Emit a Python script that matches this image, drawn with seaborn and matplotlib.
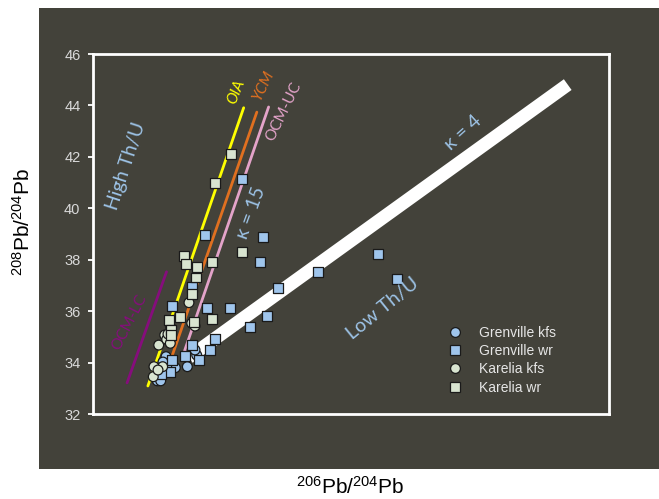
import matplotlib
matplotlib.use("Agg")
import matplotlib.pyplot as plt
from matplotlib.patches import Rectangle
import numpy as np
import pandas as pd
import seaborn as sns

# --- Sample data: 206Pb/204Pb (x) and 208Pb/204Pb (y) ---
grenville_kfs_x = [17.097, 17.206, 17.186, 16.849, 16.957, 16.779, 16.748, 16.787, 16.857, 16.814]
grenville_kfs_y = [33.84, 34.29, 34.49, 34.23, 33.80, 33.51, 33.29, 33.29, 33.86, 34.02]

grenville_wr_x = [17.733, 17.302, 17.981, 17.938, 17.151, 16.922, 17.329, 17.593, 18.027, 17.822,
                  18.148, 17.415, 17.151, 17.360, 17.073, 17.236, 16.915, 16.895, 16.791,
                  18.612, 19.310, 19.535]
grenville_wr_y = [41.13, 38.95, 38.89, 37.91, 36.93, 36.21, 36.11, 36.11, 35.80, 35.37,
                  36.91, 34.93, 34.68, 34.49, 34.27, 34.10, 34.10, 33.64, 33.55,
                  37.52, 38.22, 37.24]

karelia_kfs_x = [17.116, 17.148, 17.186, 16.834, 16.903, 16.764, 16.857, 16.899, 16.810, 16.709,
                 16.701, 16.756, 16.872]
karelia_kfs_y = [36.33, 35.53, 35.42, 35.07, 35.37, 34.68, 34.90, 34.75, 33.84, 33.84,
                 33.45, 33.71, 35.11]

karelia_wr_x = [17.601, 17.415, 17.058, 17.078, 17.206, 17.194, 17.387, 17.729, 17.151, 16.880,
                17.015, 17.174, 17.380, 16.907, 16.907]
karelia_wr_y = [42.10, 40.99, 38.16, 37.83, 37.73, 37.31, 37.92, 38.29, 36.67, 35.65,
                35.78, 35.59, 35.68, 35.27, 35.07]

group_names = ["Grenville kfs", "Grenville wr", "Karelia kfs", "Karelia wr"]

# --- Reference growth curves (start / end points) ---
oia_x, oia_y = [16.638, 17.752], [33.09, 43.91]
ycm_x, ycm_y = [16.873, 17.905], [33.81, 43.74]
ocm_uc_x, ocm_uc_y = [17.065, 18.042], [34.46, 43.94]
ocm_lc_x, ocm_lc_y = [16.396, 16.855], [33.21, 37.53]
kappa4_x, kappa4_y = [17.114, 21.52], [34.20, 44.81]

y_ticks = [32, 34, 36, 38, 40, 42, 44, 46]

# --- Build tidy table for seaborn ---
frames = []
for name, xs, ys in [
    ("Grenville kfs", grenville_kfs_x, grenville_kfs_y),
    ("Grenville wr", grenville_wr_x, grenville_wr_y),
    ("Karelia kfs", karelia_kfs_x, karelia_kfs_y),
    ("Karelia wr", karelia_wr_x, karelia_wr_y),
]:
    frames.append(pd.DataFrame({"pb206": xs, "pb208": ys, "group": name}))
df = pd.concat(frames, ignore_index=True)

sns.set_theme(style="white")
plt.rcParams["font.family"] = ["Liberation Sans", "DejaVu Sans"]
plt.rcParams["mathtext.fontset"] = "custom"
plt.rcParams["mathtext.rm"] = "Liberation Sans"
plt.rcParams["mathtext.it"] = "Liberation Sans:italic"

BG = "#43423a"
BLUE = "#9fc5ec"
GREEN = "#d8e4d0"
TXT_BLUE = "#9dc3e6"

fig = plt.figure(figsize=(6.59, 4.99), dpi=100, facecolor="white")
panel = Rectangle((39 / 659, 1 - 469 / 499), 1 - 39 / 659, (469 - 8) / 499,
                  transform=fig.transFigure, facecolor=BG, edgecolor="none", zorder=-10)
fig.add_artist(panel)

ax = fig.add_axes([93 / 659, 1 - 414 / 499, (609 - 93) / 659, (414 - 54) / 499])
ax.set_zorder(1)
ax.set_facecolor(BG)

# reference curves
ax.plot(ocm_lc_x, ocm_lc_y, color="#860d7c", lw=2.0, zorder=2)
ax.plot(oia_x, oia_y, color="#ffff00", lw=2.0, zorder=2)
ax.plot(ycm_x, ycm_y, color="#e07020", lw=2.0, zorder=2)
ax.plot(ocm_uc_x, ocm_uc_y, color="#e3a3c9", lw=2.0, zorder=2)
ax.plot(kappa4_x, kappa4_y, color="white", lw=9.5, solid_capstyle="butt", zorder=2)

palette = {"Grenville kfs": BLUE, "Grenville wr": BLUE, "Karelia kfs": GREEN, "Karelia wr": GREEN}
markers = {"Grenville kfs": "o", "Grenville wr": "s", "Karelia kfs": "o", "Karelia wr": "s"}
sns.scatterplot(data=df, x="pb206", y="pb208", hue="group", style="group",
                hue_order=group_names, style_order=group_names,
                palette=palette, markers=markers, s=50, edgecolor="#1a1a1a",
                linewidth=0.9, ax=ax, zorder=3)

ax.set_xlim(16, 22)
ax.set_ylim(32, 46)
ax.set_yticks(y_ticks)
ax.set_xticks([])
ax.set_xlabel("")
ax.set_ylabel("")
for sp in ax.spines.values():
    sp.set_color("white")
    sp.set_linewidth(2.0)
    sp.set_visible(True)
ax.tick_params(axis="y", direction="out", length=3.5, width=1.3, color="white",
               labelcolor="#d9d9d9", labelsize=10.5, pad=5.5, left=True)

# annotations
ann = dict(ha="center", va="center", rotation_mode="anchor", family=["Lato", "DejaVu Sans"])
ax.text(17.664, 44.53, "OIA", color="#ffff00", fontsize=11, rotation=68, style="italic", **ann)
ax.text(17.987, 44.76, "YCM", color="#e07020", fontsize=11, rotation=64, style="italic", **ann)
ax.text(18.216, 43.76, "OCM-UC", color="#e3a3c9", fontsize=11, rotation=64, **ann)
ax.text(16.423, 35.55, "OCM-LC", color="#860d7c", fontsize=11, rotation=63, **ann)
ax.text(16.384, 41.66, "High Th/U", color=TXT_BLUE, fontsize=14, rotation=72, **ann)
ax.text(17.84, 39.83, "κ = 15", color=TXT_BLUE, fontsize=14, rotation=70, **ann)
ax.text(20.30, 42.94, "κ = 4", color=TXT_BLUE, fontsize=14, rotation=42, **ann)
ax.text(19.365, 36.11, "Low Th/U", color=TXT_BLUE, fontsize=14, rotation=39, **ann)

handles, labels = ax.get_legend_handles_labels()
leg = ax.legend(handles, labels, loc="upper left", bbox_to_anchor=(448 / 659, 1 - 326 / 499),
                bbox_transform=fig.transFigure, frameon=False, fontsize=10,
                handlelength=1.0, handletextpad=1.2, labelspacing=0.3,
                borderpad=0, borderaxespad=0)
for t in leg.get_texts():
    t.set_color("#e6e6e6")

fig.text(350 / 659, 1 - 487 / 499, r"$^{206}$Pb/$^{204}$Pb", ha="center", va="center",
         fontsize=15, color="black")
fig.text(23 / 659, 1 - 222 / 499, r"$^{208}$Pb/$^{204}$Pb", ha="center", va="center",
         rotation=90, fontsize=15, color="black")

fig.savefig("out.png", dpi=100, facecolor="white")
